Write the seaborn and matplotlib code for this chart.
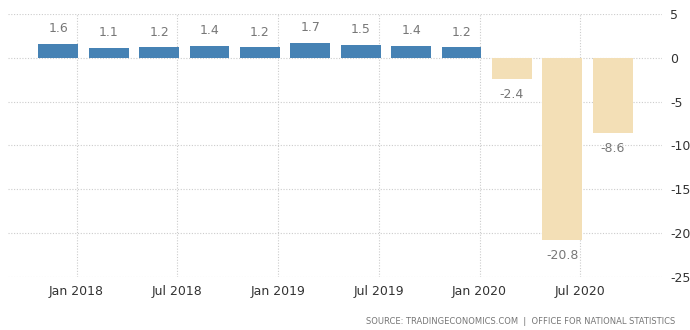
import matplotlib
matplotlib.use("Agg")
import matplotlib.pyplot as plt
import seaborn as sns
import pandas as pd

quarters = ["2017Q4", "2018Q1", "2018Q2", "2018Q3", "2018Q4", "2019Q1",
            "2019Q2", "2019Q3", "2019Q4", "2020Q1", "2020Q2", "2020Q3"]
values = [1.6, 1.1, 1.2, 1.4, 1.2, 1.7, 1.5, 1.4, 1.2, -2.4, -20.8, -8.6]
tick_labels = ["Jan 2018", "Jul 2018", "Jan 2019", "Jul 2019", "Jan 2020", "Jul 2020"]
tick_quarter_index = [0, 2, 4, 6, 8, 10]
y_ticks = [5, 0, -5, -10, -15, -20, -25]

sns.set_theme(style="white")
plt.rcParams["font.family"] = ["DejaVu Sans"]

df = pd.DataFrame({"quarter": quarters, "value": values})
df["sign"] = ["pos" if v >= 0 else "neg" for v in df["value"]]

fig = plt.figure(figsize=(6.9, 3.3), dpi=100)
ax = fig.add_axes([8 / 690, 1 - 277 / 330, 654 / 690, 263 / 330])

sns.barplot(data=df, x="quarter", y="value", hue="sign",
            palette={"pos": "#4682B4", "neg": "#F3DFB6"},
            dodge=False, width=0.79, legend=False, ax=ax,
            saturation=1, order=quarters, linewidth=0, edgecolor="none")

ax.set_xlim(-1.0, 11.98)
ax.set_ylim(-25, 5)

# value labels above / below each bar
for i, v in enumerate(values):
    if v >= 0:
        ax.text(i, v + 1.0, f"{v:.1f}", ha="center", va="bottom",
                fontsize=9, color="#777777")
    else:
        ax.text(i, v - 1.0, f"{v:.1f}", ha="center", va="top",
                fontsize=9, color="#777777")

# x ticks sit a little after each quarter's bar
ax.set_xticks([p + 0.36 for p in tick_quarter_index])
ax.set_xticklabels(tick_labels, fontsize=9, color="#333333")
ax.set_yticks(y_ticks)
ax.set_yticklabels([str(t) for t in y_ticks], fontsize=9, color="#333333")
ax.yaxis.tick_right()
ax.tick_params(axis="both", length=0)
ax.tick_params(axis="y", pad=6)
ax.tick_params(axis="x", pad=6)

ax.grid(True, which="major", axis="both", color="#CCCCCC",
        linestyle=(0, (1, 1.5)), linewidth=0.8)
ax.set_axisbelow(True)
for s in ax.spines.values():
    s.set_visible(False)
ax.set_xlabel("")
ax.set_ylabel("")

fig.text(0.978, 1 - 321 / 330, "SOURCE: TRADINGECONOMICS.COM  |  OFFICE FOR NATIONAL STATISTICS",
         ha="right", va="center", fontsize=6, color="#777777")

fig.savefig("out.png", dpi=100)
